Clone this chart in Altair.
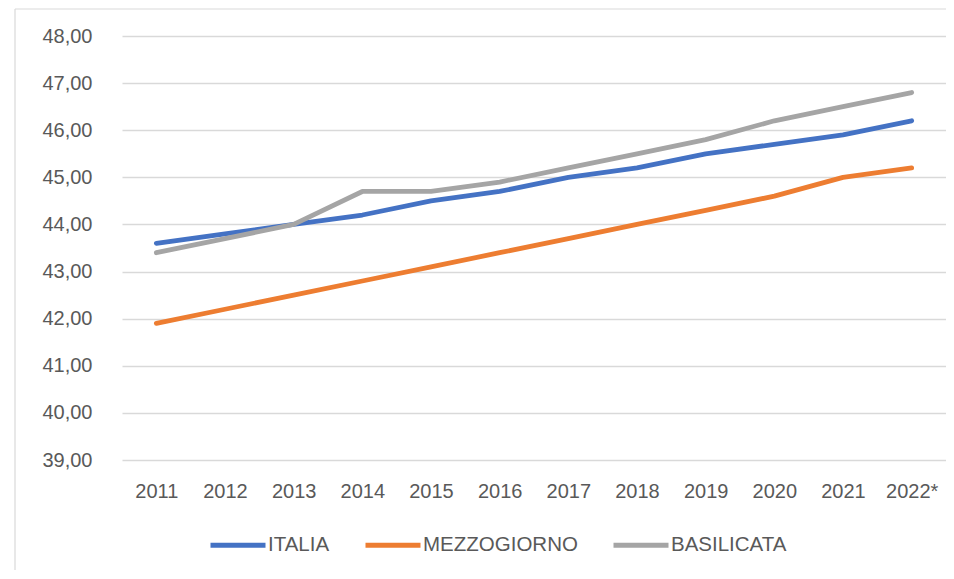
import altair as alt
import pandas as pd

years = ["2011", "2012", "2013", "2014", "2015", "2016", "2017", "2018", "2019", "2020", "2021", "2022*"]
italia = [43.6, 43.8, 44.0, 44.2, 44.5, 44.7, 45.0, 45.2, 45.5, 45.7, 45.9, 46.2]
mezzogiorno = [41.9, 42.2, 42.5, 42.8, 43.1, 43.4, 43.7, 44.0, 44.3, 44.6, 45.0, 45.2]
basilicata = [43.4, 43.7, 44.0, 44.7, 44.7, 44.9, 45.2, 45.5, 45.8, 46.2, 46.5, 46.8]
series_names = ["ITALIA", "MEZZOGIORNO", "BASILICATA"]
series_colors = ["#4472C4", "#ED7D31", "#A5A5A5"]
y_ticks = [39, 40, 41, 42, 43, 44, 45, 46, 47, 48]

rows = []
for name, vals in zip(series_names, [italia, mezzogiorno, basilicata]):
    for yr, v in zip(years, vals):
        rows.append({"anno": yr, "valore": v, "serie": name, "ord": series_names.index(name)})
df = pd.DataFrame(rows)

FONT = "Liberation Sans"
TXT = "#595959"

lines = alt.Chart(df).mark_line(strokeWidth=4.8, strokeCap="round", strokeJoin="round").encode(
    x=alt.X("anno:O", sort=years, title=None,
            scale=alt.Scale(type="point", padding=0.5),
            axis=alt.Axis(domain=False, ticks=False, grid=False, labelAngle=0,
                          labelFont=FONT, labelFontSize=20, labelColor=TXT, labelPadding=21)),
    y=alt.Y("valore:Q", title=None,
            scale=alt.Scale(domain=[39, 48], nice=False, zero=False),
            axis=alt.Axis(values=y_ticks, domain=False, ticks=False, gridColor="#D9D9D9", gridWidth=1.3,
                          labelFont=FONT, labelFontSize=20, labelColor=TXT, labelPadding=30,
                          labelExpr="replace(format(datum.value, '.2f'), '.', ',')")),
    color=alt.Color("serie:N", sort=series_names,
                    scale=alt.Scale(domain=series_names, range=series_colors),
                    legend=alt.Legend(title=None, orient="none", direction="horizontal",
                                      legendX=86, legendY=479,
                                      symbolType="stroke", symbolSize=3025, symbolStrokeWidth=5,
                                      labelFont=FONT, labelFontSize=20.5, labelColor=TXT,
                                      labelOffset=0, columnPadding=25)),
    order="ord:Q",
)

border_data = alt.Data(values=[{"k": 1}])
top_border = alt.Chart(border_data).mark_rule(color="#D9D9D9", strokeWidth=1.2).encode(
    x=alt.value(-107), x2=alt.value(830), y=alt.value(-27))
left_border = alt.Chart(border_data).mark_rule(color="#D9D9D9", strokeWidth=1.2).encode(
    x=alt.value(-107), y=alt.value(-27), y2=alt.value(600))

chart = alt.layer(top_border, left_border, lines).properties(
    width=824, height=424,
    autosize=alt.AutoSizeParams(type="none"),
    padding={"left": 114, "top": 28, "right": 0, "bottom": 110},
).configure(background="white").configure_view(stroke=None, strokeWidth=0)

chart.save("out.html", embed_options={"renderer": "svg", "actions": False})
